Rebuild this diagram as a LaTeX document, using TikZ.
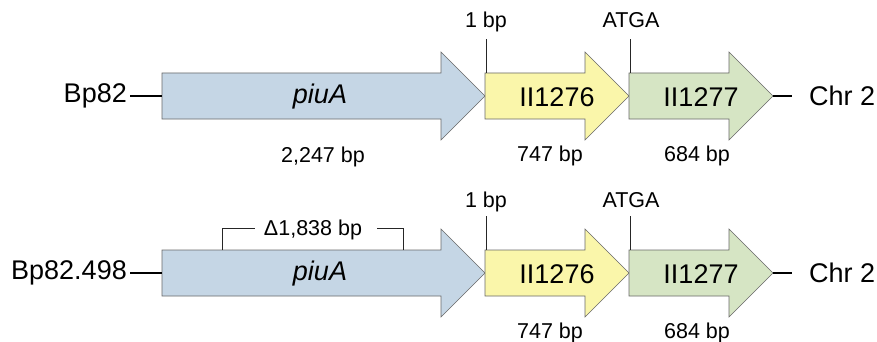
\documentclass[tikz,border=0pt]{standalone}
\usepackage{fontspec}
\setmainfont{Liberation Sans}
\definecolor{piublue}{RGB}{197,214,229}
\definecolor{geneyellow}{RGB}{250,246,170}
\definecolor{genegreen}{RGB}{214,229,196}
\definecolor{edgegray}{RGB}{105,105,105}
\tikzset{
  genebox/.style={draw=edgegray, line width=0.6pt, line join=miter},
  big/.style={font=\fontsize{27}{29}\selectfont, inner sep=0pt},
  small/.style={font=\fontsize{21.5}{23}\selectfont, inner sep=0pt},
  flank/.style={line width=2pt, black},
  tick/.style={line width=0.8pt, black!85},
}
% #1 x start, #2 head start, #3 tip, #4 centre y, #5 fill
\newcommand{\genearrowpath}[5]{%
  \path[genebox, fill=#5] (#1,#4-23) -- (#2,#4-23) -- (#2,#4-44) -- (#3,#4)
    -- (#2,#4+44) -- (#2,#4+23) -- (#1,#4+23) -- cycle;}
\begin{document}
\begin{tikzpicture}[x=1pt,y=-1pt]
\useasboundingbox (0,0) rectangle (877,342);
\fill[white] (0,0) rectangle (877,342);
% ---------- row 1 ----------
\genearrowpath{162}{441}{485}{96}{piublue}
\genearrowpath{485}{585}{629}{96}{geneyellow}
\genearrowpath{629}{729}{773}{96}{genegreen}
\coordinate (a1s) at (162,96);
\coordinate (c1e) at (773,96);
\coordinate (c1x) at (792,96);
\node[big, anchor=east] (bp82) at (127,96) {Bp82};
\node[big, anchor=west] (chr1) at (809,96) {Chr 2};
\draw[flank] (bp82.east) ++(3,0) coordinate (bp82l) -- (a1s);
\draw[flank] (c1e) -- (c1x);
\node[big] (piu1) at (320,97) {\itshape piuA};
\node[big] (g761) at (557,97) {II1276};
\node[big] (g771) at (701,97) {II1277};
\node[small, anchor=base] (len1a) at (323,162) {2,247 bp};
\node[small, anchor=base] (len1b) at (550,161) {747 bp};
\node[small, anchor=base] (len1c) at (697,161) {684 bp};
\node[small, anchor=base] (top1a) at (486,28) {1 bp};
\node[small, anchor=base] (top1b) at (631,28) {ATGA};
\coordinate (t1a) at (486,73);
\coordinate (t1b) at (630,73);
\draw[tick] (t1a) -- (486,39);
\draw[tick] (t1b) -- (630,39);
% ---------- row 2 ----------
\genearrowpath{162}{441}{485}{273}{piublue}
\genearrowpath{485}{585}{629}{273}{geneyellow}
\genearrowpath{629}{729}{773}{273}{genegreen}
\coordinate (a2s) at (162,273);
\coordinate (c2e) at (773,273);
\coordinate (c2x) at (792,273);
\node[big, anchor=east] (bp498) at (127,273) {Bp82.498};
\node[big, anchor=west] (chr2) at (809,273) {Chr 2};
\draw[flank] (bp498.east) ++(3,0) coordinate (bp498l) -- (a2s);
\draw[flank] (c2e) -- (c2x);
\node[big] (piu2) at (320,274) {\itshape piuA};
\node[big] (g762) at (557,274) {II1276};
\node[big] (g772) at (701,274) {II1277};
\node[small, anchor=base] (len2b) at (550,338) {747 bp};
\node[small, anchor=base] (len2c) at (697,338) {684 bp};
\node[small, anchor=base] (top2a) at (486,207) {1 bp};
\node[small, anchor=base] (top2b) at (631,207) {ATGA};
\coordinate (t2a) at (486,250);
\coordinate (t2b) at (630,250);
\draw[tick] (t2a) -- (486,216);
\draw[tick] (t2b) -- (630,216);
% deletion bracket
\node[small, anchor=base] (del) at (313,235) {Δ1,838 bp};
\coordinate (dl) at (222,250);
\coordinate (dr) at (403,250);
\draw[tick] (dl) -- (222,228) -- (255,228);
\draw[tick] (dr) -- (403,228) -- (377,228);
\end{tikzpicture}
\end{document}
